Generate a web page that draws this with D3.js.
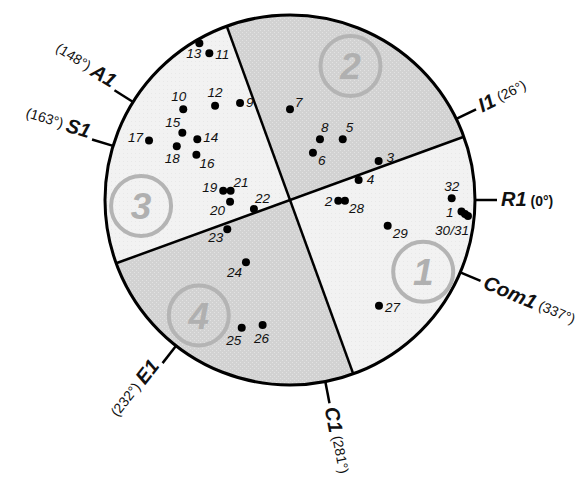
<!DOCTYPE html>
<html>
<head>
<meta charset="utf-8">
<script src="https://cdn.jsdelivr.net/npm/d3@7/dist/d3.min.js"></script>
<style>
  html, body { margin: 0; padding: 0; background: #fff; }
  svg { display: block; }
  text { font-family: "Liberation Sans", Arial, Helvetica, sans-serif; }
</style>
</head>
<body>
<div id="chart"></div>
<script>
// ---------- DATA ----------
const pointIds = [1,2,3,4,5,6,7,8,9,10,11,12,13,14,15,16,17,18,19,20,21,22,23,24,25,26,27,28,29,30,31,32];
const pointX = [0.927,0.261,0.479,0.371,0.285,0.124,0.000,0.162,-0.270,-0.577,-0.436,-0.405,-0.490,-0.501,-0.582,-0.506,-0.762,-0.612,-0.361,-0.324,-0.321,-0.195,-0.339,-0.238,-0.261,-0.148,0.481,0.297,0.528,0.946,0.962,0.874];
const pointY = [-0.062,-0.004,0.211,0.108,0.328,0.256,0.490,0.328,0.524,0.490,0.793,0.510,0.847,0.328,0.364,0.245,0.321,0.290,0.050,-0.009,0.050,-0.049,-0.158,-0.337,-0.690,-0.676,-0.571,-0.004,-0.139,-0.076,-0.086,0.009];
const pointLabels = ["1","2","3","4","5","6","7","8","9","10","11","12","13","14","15","16","17","18","19","20","21","22","23","24","25","26","27","28","29","30/31","","32"];

const axisNames  = ["R1","I1","A1","S1","E1","C1","Com1"];
const axisAngles = [0, 26, 148, 163, 232, 281, 337];

const sectorIds    = [1, 2, 3, 4];
const sectorStart  = [-70, 20, 110, 200];   // degrees, counter-clockwise from R1
const sectorEnd    = [20, 110, 200, 290];
const sectorCenterX = [0.720, 0.327, -0.805, -0.493];
const sectorCenterY = [-0.388, 0.725, -0.032, -0.624];

// ---------- LAYOUT ----------
const W = 582, H = 482, cx = 290, cy = 200, R = 185;
const labelPos = { // dx, dy, anchor (layout only)
  1:[-8,6,"end"], 2:[-6,5,"end"], 3:[8,1,"start"], 4:[8,4,"start"], 5:[3,-7,"start"],
  6:[5,12,"start"], 7:[5,-2,"start"], 8:[1,-7,"start"], 9:[6,4,"start"], 10:[3,-8,"end"],
  11:[6,6,"start"], 12:[0,-9,"middle"], 13:[2,15,"end"], 14:[6,3,"start"], 15:[-2,-6,"end"],
  16:[3,13,"start"], 17:[-6,1,"end"], 18:[3,17,"end"], 19:[-6,1,"end"], 20:[-5,13,"end"],
  21:[3,-4,"start"], 22:[1,-6,"start"], 23:[-4,13,"end"], 24:[-4,15,"end"], 25:[-8,17,"middle"],
  26:[-1,18,"middle"], 27:[6,6,"start"], 28:[4,12,"start"], 29:[5,12,"start"], 30:[-13,21,"middle"],
  31:[0,0,"middle"], 32:[0,-7,"middle"]
};

const x = d3.scaleLinear().domain([-1, 1]).range([cx - R, cx + R]);
const y = d3.scaleLinear().domain([-1, 1]).range([cy + R, cy - R]);
const ang = d3.scaleLinear().domain([0, 360]).range([0, 2 * Math.PI]);
const rScale = d3.scaleLinear().domain([0, 1]).range([0, R]);

const svg = d3.select("#chart").append("svg").attr("width", W).attr("height", H);

// subtle textures
const defs = svg.append("defs");
const pDark = defs.append("pattern").attr("id","dark").attr("width",4).attr("height",4).attr("patternUnits","userSpaceOnUse");
pDark.append("rect").attr("width",4).attr("height",4).attr("fill","#d2d2d2");
pDark.append("rect").attr("x",0).attr("y",0).attr("width",1).attr("height",1).attr("fill","#e2e2e2");
pDark.append("rect").attr("x",2).attr("y",2).attr("width",1).attr("height",1).attr("fill","#e2e2e2");
const pLight = defs.append("pattern").attr("id","light").attr("width",4).attr("height",4).attr("patternUnits","userSpaceOnUse");
pLight.append("rect").attr("width",4).attr("height",4).attr("fill","#f2f2f2");
pLight.append("rect").attr("x",1).attr("y",1).attr("width",1).attr("height",1).attr("fill","#e8e8e8");

const g = svg.append("g").attr("transform", `translate(${cx},${cy})`);

// sectors (d3.arc angles are clockwise from 12 o'clock)
const arc = d3.arc().innerRadius(0).outerRadius(R);
const sectors = sectorIds.map((id, i) => ({ id, s: sectorStart[i], e: sectorEnd[i] }));
g.selectAll("path.sector").data(sectors).join("path")
  .attr("class", "sector")
  .attr("d", d => arc({ startAngle: ang(90 - d.e), endAngle: ang(90 - d.s) }))
  .attr("fill", d => (d.id % 2 === 0 ? "url(#dark)" : "url(#light)"));

// region number badges
const badges = sectorIds.map((id, i) => ({ id, bx: sectorCenterX[i], by: sectorCenterY[i] }));
const bg = svg.selectAll("g.badge").data(badges).join("g")
  .attr("class", "badge")
  .attr("transform", d => `translate(${x(d.bx)},${y(d.by)})`);
bg.append("circle").attr("r", 30).attr("fill", "none").attr("stroke", "#b4b4b4").attr("stroke-width", 4);
bg.append("text").attr("text-anchor", "middle").attr("dy", "0.36em")
  .attr("font-size", 37).attr("font-weight", "bold").attr("font-style", "italic")
  .attr("fill", "#b0b0b0").text(d => d.id);

// divider lines
const dividers = [sectorStart[1], sectorStart[2]];
g.selectAll("line.div").data(dividers).join("line")
  .attr("class", "div")
  .attr("x1", d => rScale(1) * Math.cos(ang(d)))
  .attr("y1", d => -rScale(1) * Math.sin(ang(d)))
  .attr("x2", d => -rScale(1) * Math.cos(ang(d)))
  .attr("y2", d => rScale(1) * Math.sin(ang(d)))
  .attr("stroke", "#000").attr("stroke-width", 2.5);

// outer circle
g.append("circle").attr("r", R).attr("fill", "none").attr("stroke", "#000").attr("stroke-width", 3);

// axis ticks + labels
const axes = axisNames.map((n, i) => ({ n, a: axisAngles[i] }));
g.selectAll("line.tick").data(axes).join("line")
  .attr("class", "tick")
  .attr("x1", d => R * Math.cos(ang(d.a)))
  .attr("y1", d => -R * Math.sin(ang(d.a)))
  .attr("x2", d => (R + 22) * Math.cos(ang(d.a)))
  .attr("y2", d => -(R + 22) * Math.sin(ang(d.a)))
  .attr("stroke", "#000").attr("stroke-width", 2.5);

const RT = R + 26;
const at = g.selectAll("text.axis").data(axes).join("text")
  .attr("class", "axis")
  .attr("transform", d => {
    const px = RT * Math.cos(ang(d.a)), py = -RT * Math.sin(ang(d.a));
    const right = Math.cos(ang(d.a)) >= 0;
    const rot = right ? -d.a : 180 - d.a;
    return `translate(${px},${py}) rotate(${rot})`;
  })
  .attr("text-anchor", d => (Math.cos(ang(d.a)) >= 0 ? "start" : "end"))
  .attr("dy", "0.36em")
  .attr("fill", "#111");
at.each(function(d) {
  const t = d3.select(this);
  const right = Math.cos(ang(d.a)) >= 0;
  const deg = `(${d.a}°)`;
  const isR = d.a === 0;
  if (right) {
    t.append("tspan").attr("font-size", 20).attr("font-weight", "bold").attr("font-style", "italic").text(d.n);
    t.append("tspan").attr("font-size", 14).attr("font-weight", isR ? "bold" : "normal")
      .attr("dy", isR ? 0 : -2).text(" " + deg);
  } else {
    t.append("tspan").attr("font-size", 14).attr("dy", -2).text(deg + " ");
    t.append("tspan").attr("font-size", 20).attr("font-weight", "bold").attr("font-style", "italic")
      .attr("dy", 2).text(d.n);
  }
});

// points
const pts = pointIds.map((id, i) => ({ id, px: pointX[i], py: pointY[i], label: pointLabels[i] }));
svg.selectAll("circle.pt").data(pts).join("circle")
  .attr("class", "pt")
  .attr("cx", d => x(d.px)).attr("cy", d => y(d.py))
  .attr("r", 4).attr("fill", "#000");

svg.selectAll("text.pl").data(pts.filter(d => d.label !== "")).join("text")
  .attr("class", "pl")
  .attr("x", d => x(d.px) + labelPos[d.id][0])
  .attr("y", d => y(d.py) + labelPos[d.id][1])
  .attr("text-anchor", d => labelPos[d.id][2])
  .attr("font-size", 13.5).attr("font-style", "italic").attr("fill", "#111")
  .text(d => d.label);
</script>
</body>
</html>
